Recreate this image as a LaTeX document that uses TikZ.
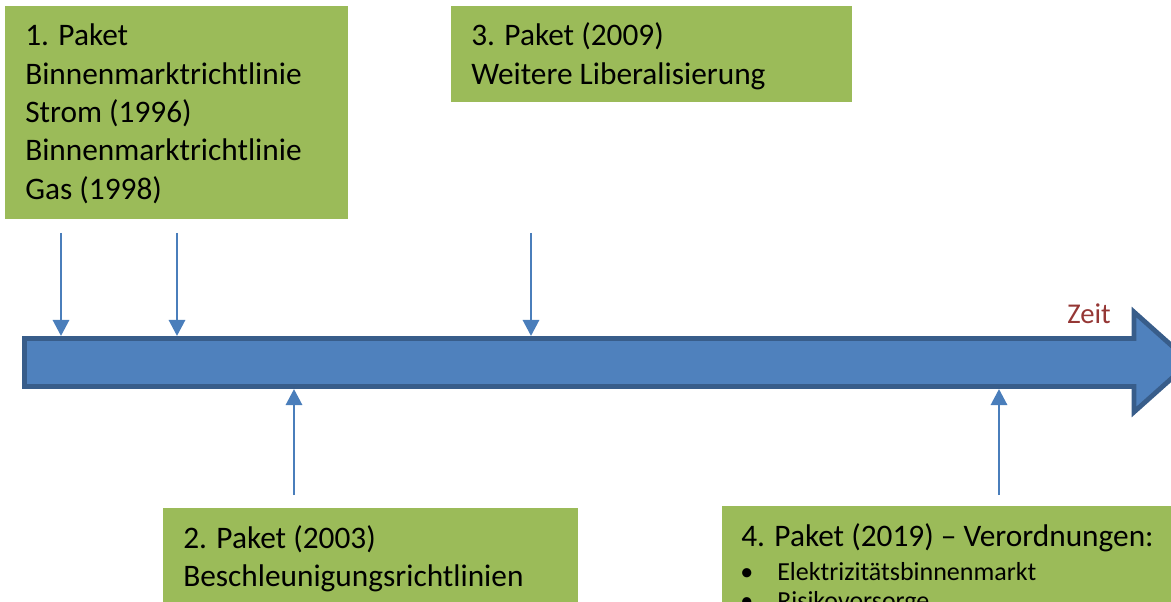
\documentclass[tikz,border=0pt]{standalone}
\usepackage{fontspec}
\setmainfont{Carlito}
\usetikzlibrary{arrows.meta}
\definecolor{boxgreen}{HTML}{9BBB59}
\definecolor{arrowblue}{HTML}{4A7EBB}
\definecolor{shaftfill}{HTML}{4F81BD}
\definecolor{shaftline}{HTML}{385D8A}
\definecolor{zeitred}{HTML}{953735}
\tikzset{
  greenbox/.style={fill=boxgreen, draw=none, rectangle, anchor=north west, inner sep=0},
  boxtext/.style={anchor=base west, inner sep=0, text=black},
  smalltext/.style={boxtext, font=\fontsize{19.5}{22}\selectfont},
  smallarrow/.style={draw=arrowblue, line width=2.2pt, -{Triangle[width=12pt,length=12pt]}},
  bigarrow/.style={fill=shaftfill, draw=shaftline, line width=3.6pt, line join=miter}
}
\newcommand{\bigtext}[1]{\parbox[t]{420pt}{\fontsize{23.5}{28.7}\selectfont #1}}
\begin{document}
\begin{tikzpicture}[x=0.75pt,y=-0.75pt]
\useasboundingbox (0,0) rectangle (1171,602);
\clip (0,0) rectangle (1171,602);
% boxes
\node[greenbox, minimum width=343*0.75pt, minimum height=213*0.75pt] (b1) at (5,6) {};
\node[greenbox, minimum width=401*0.75pt, minimum height=96*0.75pt] (b3) at (451,6) {};
\node[greenbox, minimum width=415*0.75pt, minimum height=100*0.75pt] (b2) at (163,508) {};
\node[greenbox, minimum width=460*0.75pt, minimum height=100*0.75pt] (b4) at (722,506) {};
% texts
\node[boxtext] (t1) at (25,46) {\bigtext{1. Paket\\Binnenmarktrichtlinie\\Strom (1996)\\Binnenmarktrichtlinie\\Gas (1998)}};
\node[boxtext] (t3) at (471,46) {\bigtext{3. Paket (2009)\\Weitere Liberalisierung}};
\node[boxtext] (t2) at (183,548) {\bigtext{2. Paket (2003)\\Beschleunigungsrichtlinien}};
\node[boxtext] (t4) at (741,546) {\bigtext{4. Paket (2019) -- Verordnungen:}};
\node[smalltext] (t4a) at (740,580) {\textbullet};
\node[smalltext] (t4b) at (777,580) {Elektrizitätsbinnenmarkt};
\node[smalltext] (t4c) at (740,609) {\textbullet};
\node[smalltext] (t4d) at (777,609) {Risikovorsorge};
% big arrow
\draw[bigarrow] (24.5,338.5) -- (1134,338.5) -- (1134,312) -- (1190,362) -- (1134,412) -- (1134,386.5) -- (24.5,386.5) -- cycle;
\node[anchor=base, inner sep=0, text=zeitred, font=\fontsize{21.5}{24}\selectfont] (zeit) at (1089,324) {Zeit};
% small arrows
\coordinate (a1) at (61,233);  \coordinate (e1) at (61,336);
\coordinate (a2) at (177,233); \coordinate (e2) at (177,336);
\coordinate (a3) at (531,233); \coordinate (e3) at (531,336);
\coordinate (a4) at (294,495); \coordinate (e4) at (294,389);
\coordinate (a5) at (999,495); \coordinate (e5) at (999,389);
\draw[smallarrow] (a1) -- (e1);
\draw[smallarrow] (a2) -- (e2);
\draw[smallarrow] (a3) -- (e3);
\draw[smallarrow] (a4) -- (e4);
\draw[smallarrow] (a5) -- (e5);
\end{tikzpicture}
\end{document}
